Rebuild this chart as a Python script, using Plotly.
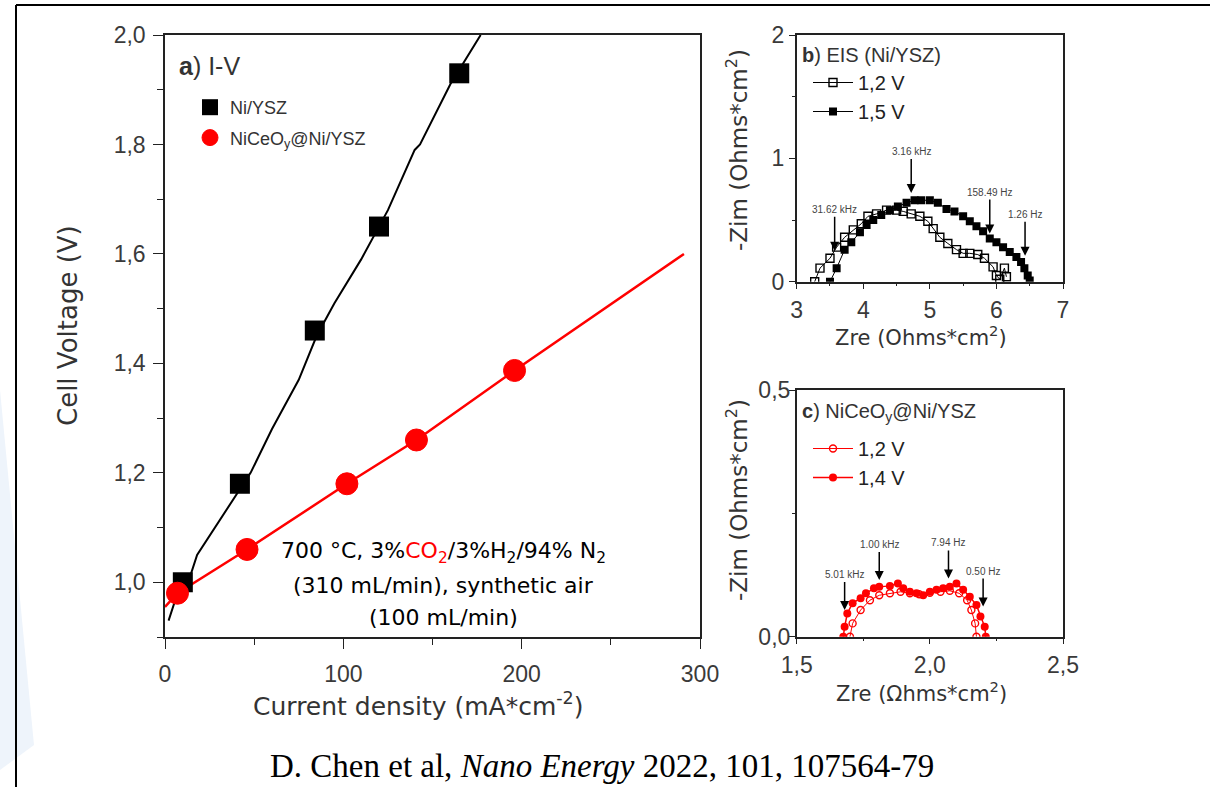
import plotly.graph_objects as go

# ---------------- data ----------------
# Panel a: I-V curves
iv_nysz_j = [10, 42, 84, 120, 165]
iv_nysz_v = [1.00, 1.18, 1.46, 1.65, 1.93]
iv_nysz_line_j = [2, 5, 10, 14, 18, 30, 42, 48, 60, 75, 85, 95, 110, 125, 140, 143, 160, 177]
iv_nysz_line_v = [0.93, 0.96, 0.985, 1.01, 1.05, 1.11, 1.17, 1.20, 1.28, 1.37, 1.45, 1.51, 1.59, 1.68, 1.79, 1.80, 1.91, 2.0]

iv_ce_j = [7, 46, 102, 141, 196]
iv_ce_v = [0.98, 1.06, 1.18, 1.26, 1.387]
iv_ce_line_j = [0, 7, 46, 102, 141, 196, 291]
iv_ce_line_v = [0.955, 0.98, 1.06, 1.18, 1.26, 1.387, 1.60]

# Panel b: EIS Ni/YSZ
eis_b12_zre = [3.27, 3.35, 3.5, 3.6, 3.72, 3.85, 3.97, 4.07, 4.2, 4.35, 4.5, 4.6, 4.72, 4.85, 4.97,
               5.05, 5.15, 5.27, 5.4, 5.5, 5.6, 5.72, 5.82, 5.95, 6.0, 6.05, 6.12, 6.15]
eis_b12_zim = [0.0, 0.11, 0.19, 0.28, 0.36, 0.42, 0.47, 0.53, 0.55, 0.58, 0.58, 0.57, 0.55, 0.53, 0.49,
               0.43, 0.36, 0.31, 0.26, 0.23, 0.23, 0.22, 0.19, 0.12, 0.05, 0.02, 0.11, 0.04]
eis_b15_zre = [3.5, 3.6, 3.72, 3.82, 3.95, 4.05, 4.15, 4.27, 4.4, 4.52, 4.65, 4.77, 4.87, 5.0, 5.12,
               5.25, 5.37, 5.5, 5.6, 5.7, 5.8, 5.9, 6.0, 6.1, 6.2, 6.3, 6.37, 6.42, 6.47, 6.5]
eis_b15_zim = [0.0, 0.11, 0.26, 0.32, 0.40, 0.46, 0.50, 0.54, 0.58, 0.61, 0.64, 0.66, 0.66, 0.66, 0.64,
               0.59, 0.57, 0.53, 0.49, 0.45, 0.41, 0.35, 0.32, 0.28, 0.24, 0.20, 0.16, 0.11, 0.05, 0.01]

# Panel c: EIS NiCeOy@Ni/YSZ
eis_c12_zre = [1.70, 1.71, 1.74, 1.775, 1.81, 1.85, 1.89, 1.925, 1.96, 2.0, 2.04, 2.075, 2.11, 2.14, 2.156, 2.17, 2.175]
eis_c12_zim = [0.0, 0.027, 0.054, 0.074, 0.084, 0.088, 0.091, 0.088, 0.086, 0.089, 0.091, 0.093, 0.088, 0.074, 0.054, 0.027, 0.0]
eis_c14_zre = [1.675, 1.68, 1.69, 1.71, 1.74, 1.76, 1.79, 1.81, 1.85, 1.88, 1.90, 1.925, 1.95, 1.975, 2.0,
               2.025, 2.05, 2.075, 2.10, 2.125, 2.15, 2.175, 2.19, 2.206, 2.21]
eis_c14_zim = [0.0, 0.02, 0.047, 0.068, 0.078, 0.088, 0.098, 0.101, 0.103, 0.108, 0.098, 0.091, 0.088, 0.084, 0.091,
               0.095, 0.098, 0.101, 0.108, 0.095, 0.081, 0.064, 0.041, 0.02, 0.0]

# frequency markers
freq_b_labels = ["31.62 kHz", "3.16 kHz", "158.49 Hz", "1.26 Hz"]
freq_b_x = [3.57, 4.72, 5.90, 6.43]
freq_b_y = [0.25, 0.72, 0.39, 0.21]
freq_c_labels = ["5.01 kHz", "1.00 kHz", "7.94 Hz", "0.50 Hz"]
freq_c_x = [1.68, 1.81, 2.07, 2.20]
freq_c_y = [0.054, 0.115, 0.118, 0.061]

# ---------------- figure ----------------
W, H = 1210, 787
def px(x):
    return x / W
def py(y):
    return 1 - y / H

fig = go.Figure()
RED = "#ff0000"
SANS = "Liberation Sans, Arial"
WIDE = "DejaVu Sans, Verdana"

# Panel a
fig.add_trace(go.Scatter(x=iv_nysz_line_j, y=iv_nysz_line_v, mode="lines",
                         line=dict(color="black", width=2), showlegend=False, xaxis="x", yaxis="y"))
fig.add_trace(go.Scatter(x=iv_ce_line_j, y=iv_ce_line_v, mode="lines",
                         line=dict(color=RED, width=2.5), showlegend=False, xaxis="x", yaxis="y"))
fig.add_trace(go.Scatter(x=iv_nysz_j, y=iv_nysz_v, mode="markers", name="Ni/YSZ", legendgroup="g1",
                         marker=dict(symbol="square", size=20, color="black"), xaxis="x", yaxis="y", legend="legend"))
fig.add_trace(go.Scatter(x=iv_ce_j, y=iv_ce_v, mode="markers", name="NiCeO<sub>y</sub>@Ni/YSZ", legendgroup="g2",
                         marker=dict(symbol="circle", size=22, color=RED, line=dict(color=RED, width=1)),
                         xaxis="x", yaxis="y", legend="legend"))

# Panel b
fig.add_trace(go.Scatter(x=eis_b12_zre, y=eis_b12_zim, mode="lines+markers", name="1,2 V",
                         line=dict(color="black", width=1),
                         marker=dict(symbol="square-open", size=8, color="black", line=dict(width=1.4)),
                         xaxis="x2", yaxis="y2", legend="legend2"))
fig.add_trace(go.Scatter(x=eis_b15_zre, y=eis_b15_zim, mode="lines+markers", name="1,5 V",
                         line=dict(color="black", width=1),
                         marker=dict(symbol="square", size=8, color="black"),
                         xaxis="x2", yaxis="y2", legend="legend2"))

# Panel c
fig.add_trace(go.Scatter(x=eis_c12_zre, y=eis_c12_zim, mode="lines+markers", name="1,2 V",
                         line=dict(color=RED, width=1),
                         marker=dict(symbol="circle-open", size=7, color=RED, line=dict(width=1.4)),
                         xaxis="x3", yaxis="y3", legend="legend3"))
fig.add_trace(go.Scatter(x=eis_c14_zre, y=eis_c14_zim, mode="lines+markers", name="1,4 V",
                         line=dict(color=RED, width=1.5),
                         marker=dict(symbol="circle", size=8, color=RED),
                         xaxis="x3", yaxis="y3", legend="legend3"))

TICKFONT = dict(family=SANS, size=23, color="#3a3a3a")
def axis(domain, rng, dtick, minor_dtick, fmt, anchor, tl, mtl, standoff):
    return dict(domain=domain, range=rng, dtick=dtick, tick0=0, tickformat=fmt,
                showline=True, linecolor="#222", linewidth=1.5, mirror=True,
                ticks="outside", ticklen=tl, tickwidth=1.3, tickcolor="#222",
                minor=dict(ticks="outside", ticklen=mtl, dtick=minor_dtick, tickcolor="#222", tickwidth=1.2),
                ticklabelstandoff=standoff,
                showgrid=False, zeroline=False, tickfont=TICKFONT, anchor=anchor, fixedrange=True,
                automargin=False)

a_x = [px(165), px(700)]
a_y = [py(637), py(35)]
b_x = [px(796.7), px(1063)]
b_y = [py(281.7), py(35)]
c_y = [py(636.7), py(390)]

fig.update_layout(
    width=W, height=H, margin=dict(l=0, r=0, t=0, b=0, pad=0, autoexpand=False),
    paper_bgcolor="white", plot_bgcolor="white",
    separators=", ",
    xaxis=axis(a_x, [0, 300], 100, 50, "d", "y", 10, 6, 6),
    yaxis=axis(a_y, [0.9, 2.0], 0.2, 0.1, ".1f", "x", 10, 6, 3),
    xaxis2=axis(b_x, [3, 7], 1, 0.5, "d", "y2", 6, 3, 1),
    yaxis2=axis(b_y, [0, 2], 1, 0.5, "d", "x2", 6, 3, 0),
    xaxis3=axis(b_x, [1.5, 2.5], 0.5, 0.25, ".1f", "y3", 6, 3, 1),
    yaxis3=axis(c_y, [0, 0.5], 0.5, 0.25, ".1f", "x3", 6, 3, -6),
    legend=dict(x=px(190), y=py(89), xanchor="left", yanchor="top", bgcolor="rgba(0,0,0,0)",
                font=dict(family=SANS, size=18, color="#333"), tracegroupgap=4,
                itemwidth=30),
    legend2=dict(x=px(808), y=py(63), xanchor="left", yanchor="top", bgcolor="rgba(0,0,0,0)",
                 font=dict(family=SANS, size=20, color="#222"), itemwidth=40),
    legend3=dict(x=px(808), y=py(429), xanchor="left", yanchor="top", bgcolor="rgba(0,0,0,0)",
                 font=dict(family=SANS, size=20, color="#222"), itemwidth=40),
    hovermode=False,
)

ann = []
def paper_text(x, y, text, size, angle=0, color="#333", family=SANS, xanchor="center"):
    ann.append(dict(x=px(x), y=py(y), xref="paper", yref="paper", text=text, showarrow=False,
                    textangle=angle, xanchor=xanchor, yanchor="middle",
                    font=dict(family=family, size=size, color=color)))

# axis titles
paper_text(68, 326, "Cell Voltage (V)", 26, -90, family=WIDE)
paper_text(418, 704, "Current density (mA*cm<sup>-2</sup>)", 25, family=WIDE)
paper_text(737, 150, "-Zim (Ohms*cm<sup>2</sup>)", 23, -90, family=WIDE)
paper_text(921, 336, "Zre (Ohms*cm<sup>2</sup>)", 21, family=WIDE)
paper_text(737, 500, "-Zim (Ohms*cm<sup>2</sup>)", 23, -90, family=WIDE)
paper_text(921, 692, "Zre (\u03a9hms*cm<sup>2</sup>)", 21, family=WIDE)

# panel labels
paper_text(177, 66, "<b>a</b>) I-V", 25, xanchor="left")
paper_text(800, 55, "<b>b</b>) EIS (Ni/YSZ)", 20, xanchor="left")
paper_text(800, 412, "<b>c</b>) NiCeO<sub>y</sub>@Ni/YSZ", 20, xanchor="left")

# conditions text
paper_text(443, 552, "700 \u00b0C, 3%<span style='color:#ff0000'>CO<sub>2</sub></span>/3%H<sub>2</sub>/94% N<sub>2</sub>",
           22, color="black", family=WIDE)
paper_text(443, 585, "(310 mL/min), synthetic air", 22, color="black", family=WIDE)
paper_text(443, 617, "(100 mL/min)", 22, color="black", family=WIDE)

# citation
paper_text(602, 766, "D. Chen et al, <i>Nano Energy</i> 2022, 101, 107564-79", 33, color="black",
           family="Liberation Serif, Times New Roman")

# frequency arrows
for lab, fx, fy in zip(freq_b_labels, freq_b_x, freq_b_y):
    ann.append(dict(x=fx, y=fy, xref="x2", yref="y2", text=lab, showarrow=True, ax=0, ay=-34,
                    arrowhead=2, arrowsize=1.2, arrowwidth=1.5, arrowcolor="black",
                    font=dict(family=SANS, size=10, color="#444"), yanchor="bottom"))
for lab, fx, fy in zip(freq_c_labels, freq_c_x, freq_c_y):
    ann.append(dict(x=fx, y=fy, xref="x3", yref="y3", text=lab, showarrow=True, ax=0, ay=-28,
                    arrowhead=2, arrowsize=1.2, arrowwidth=1.5, arrowcolor="black",
                    font=dict(family=SANS, size=10, color="#444"), yanchor="bottom"))

fig.update_layout(annotations=ann)

# slide frame and faint decoration
fig.update_layout(shapes=[
    dict(type="path", xref="paper", yref="paper",
         path=f"M 0,{py(390)} L {px(34)},{py(745)} L 0,{py(770)} Z",
         fillcolor="#eef4fb", line=dict(width=0), layer="below"),
    dict(type="line", xref="paper", yref="paper", x0=px(16), x1=1, y0=py(5), y1=py(5),
         line=dict(color="black", width=2)),
    dict(type="line", xref="paper", yref="paper", x0=px(16), x1=px(16), y0=py(5), y1=0,
         line=dict(color="black", width=2)),
])

fig.write_html("out.html", config={"displayModeBar": False},
               post_script="document.body.style.margin='0';document.body.style.overflow='hidden';")
